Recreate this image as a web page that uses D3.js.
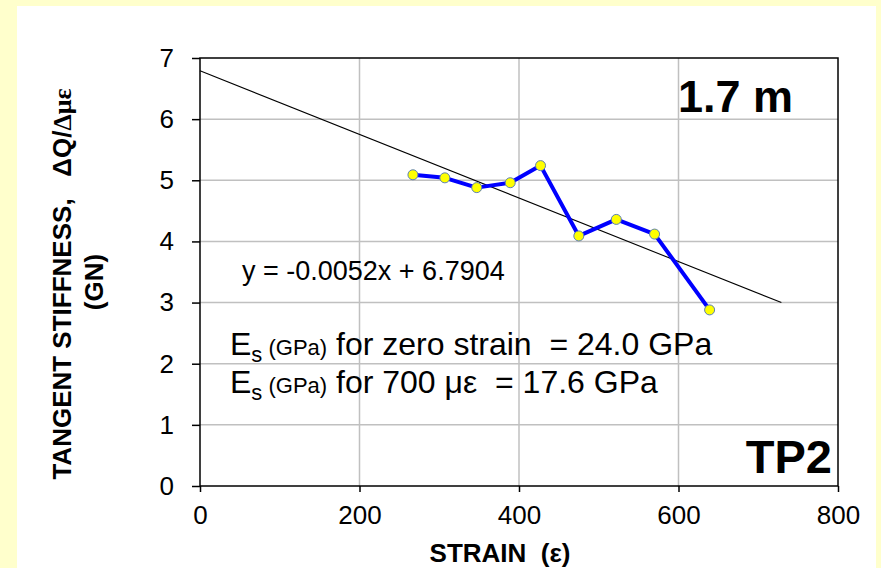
<!DOCTYPE html>
<html><head><meta charset="utf-8">
<script src="https://cdn.jsdelivr.net/npm/d3@7"></script>
<style>html,body{margin:0;padding:0;background:#FFFFCC;overflow:hidden;} svg{display:block;} text{white-space:pre;}</style>
</head><body>
<svg id="chart" width="881" height="568"></svg>
<script>
// ---- data ----
const strain = [267, 307, 347, 389, 427, 475, 522, 570, 639];
const stiffness = [5.09, 5.04, 4.88, 4.96, 5.24, 4.09, 4.36, 4.12, 2.88];
const trendSlope = -0.0052;
const trendIntercept = 6.7904;
const trendX = [0, 729];
const xTicks = [0, 200, 400, 600, 800];
const yTicks = [0, 1, 2, 3, 4, 5, 6, 7];
const xTitle = "STRAIN  (\u03b5)";
const yTitleMain = "TANGENT STIFFNESS,   \u0394Q/";
const yTitleGreek = "\u0394\u03bc\u03b5";
const yTitleUnit = "(GN)";
const equationLabel = "y = -0.0052x + 6.7904";
const esLines = [
  {sub: "s", unit: " (GPa)", rest: " for zero strain  = 24.0 GPa"},
  {sub: "s", unit: " (GPa)", rest: " for 700 \u03bc\u03b5  = 17.6 GPa"}
];
const distLabel = "1.7 m";
const pileLabel = "TP2";

// ---- layout ----
const svg = d3.select("#chart");
const sans = "Arial, 'Liberation Sans', Helvetica, sans-serif";
const serif = "'Times New Roman', 'Liberation Serif', serif";
const L = 200, R = 838, T = 58, B = 486;

svg.append("rect").attr("x", 17).attr("y", 6).attr("width", 859).attr("height", 562).attr("fill", "#ffffff");

const x = d3.scaleLinear().domain([0, 800]).range([L, R]);
const y = d3.scaleLinear().domain([0, 7]).range([B, T]);

// grid
const grid = svg.append("g").attr("stroke", "#c0c0c0").attr("stroke-width", 1.5);
grid.selectAll("line.gx").data(xTicks.slice(1, -1)).join("line")
  .attr("x1", d => x(d)).attr("x2", d => x(d)).attr("y1", T).attr("y2", B);
grid.selectAll("line.gy").data(yTicks.slice(1, -1)).join("line")
  .attr("x1", L).attr("x2", R).attr("y1", d => y(d)).attr("y2", d => y(d));

// frame
svg.append("rect").attr("x", L).attr("y", T).attr("width", R - L).attr("height", B - T)
  .attr("fill", "none").attr("stroke", "#000").attr("stroke-width", 1.5);

// axes
const yAxis = svg.append("g").attr("transform", `translate(${L},0)`)
  .call(d3.axisLeft(y).tickValues(yTicks).tickSize(8).tickPadding(18).tickFormat(d3.format("d")));
const xAxis = svg.append("g").attr("transform", `translate(0,${B})`)
  .call(d3.axisBottom(x).tickValues(xTicks).tickSize(6).tickPadding(14).tickFormat(d3.format("d")));
[yAxis, xAxis].forEach(a => {
  a.select(".domain").remove();
  a.selectAll(".tick line").attr("stroke", "#000").attr("stroke-width", 1.5);
  a.selectAll(".tick text").attr("fill", "#000").attr("font-family", sans).attr("font-size", 26);
});

// trend line
const lineGen = d3.line().x(d => x(d[0])).y(d => y(d[1]));
svg.append("path").datum(trendX.map(v => [v, trendSlope * v + trendIntercept]))
  .attr("d", lineGen).attr("fill", "none").attr("stroke", "#000").attr("stroke-width", 1.1);

// data series
const pts = strain.map((s, i) => [s, stiffness[i]]);
svg.append("path").datum(pts).attr("d", lineGen).attr("fill", "none")
  .attr("stroke", "#0000ff").attr("stroke-width", 4).attr("stroke-linejoin", "round");
svg.selectAll("circle.pt").data(pts).join("circle").attr("class", "pt")
  .attr("cx", d => x(d[0])).attr("cy", d => y(d[1])).attr("r", 5)
  .attr("fill", "#ffff00").attr("stroke", "#5b7fb5").attr("stroke-width", 1);

// equation
svg.append("text").attr("x", 242).attr("y", 280).attr("font-family", sans).attr("font-size", 27)
  .attr("fill", "#000").text(equationLabel);

// Es lines
const esBase = [355, 393];
esLines.forEach((ln, i) => {
  const t = svg.append("text").attr("x", 230).attr("y", esBase[i]).attr("font-family", sans)
    .attr("font-size", 32).attr("fill", "#000");
  t.append("tspan").text("E");
  t.append("tspan").attr("font-size", 22).attr("dy", 7).text(ln.sub);
  t.append("tspan").attr("font-size", 22).attr("dy", -7).text(ln.unit);
  t.append("tspan").text(ln.rest);
});

// corner labels
svg.append("text").attr("x", 793).attr("y", 112).attr("text-anchor", "end").attr("font-family", sans)
  .attr("font-weight", "bold").attr("font-size", 45).attr("fill", "#000").text(distLabel);
svg.append("text").attr("x", 832).attr("y", 473).attr("text-anchor", "end").attr("font-family", sans)
  .attr("font-weight", "bold").attr("font-size", 47).attr("fill", "#000").text(pileLabel);

// axis titles
svg.append("text").attr("x", 500).attr("y", 562).attr("text-anchor", "middle").attr("font-family", sans)
  .attr("font-weight", "bold").attr("font-size", 26).attr("fill", "#000").text(xTitle);

const yt = svg.append("text").attr("transform", "translate(71,284) rotate(-90)").attr("text-anchor", "middle")
  .attr("font-family", sans).attr("font-weight", "bold").attr("font-size", 26).attr("fill", "#000");
yt.append("tspan").text(yTitleMain);
yt.append("tspan").attr("font-family", serif).text(yTitleGreek);
svg.append("text").attr("transform", "translate(103,282) rotate(-90)").attr("text-anchor", "middle")
  .attr("font-family", sans).attr("font-weight", "bold").attr("font-size", 26).attr("fill", "#000").text(yTitleUnit);
</script>
</body></html>
